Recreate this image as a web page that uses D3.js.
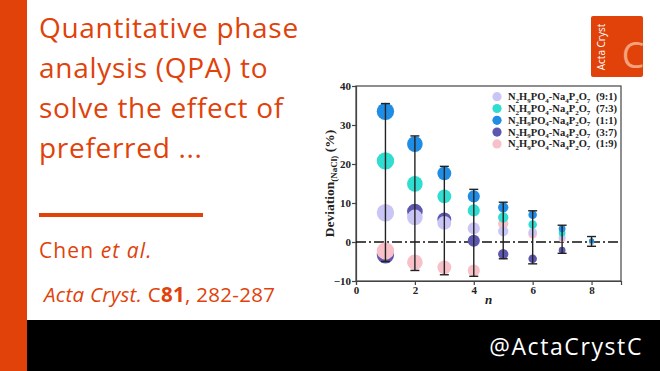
<!DOCTYPE html>
<html><head><meta charset="utf-8">
<script src="https://cdn.jsdelivr.net/npm/d3@7"></script>
<style>html,body{margin:0;padding:0;background:#fff;}svg{display:block;}</style>
</head><body>
<svg id="c" width="660" height="371"></svg>
<script>
// ---- data ----
const nValues = [1, 2, 3, 4, 5, 6, 7, 8];
const ratio91 = [7.5, 6.3, 4.9, 3.5, 2.8, 2.5, 1.2, 0.0];
const ratio73 = [20.8, 14.9, 11.7, 8.1, 6.3, 4.5, 2.3, 0.2];
const ratio11 = [33.5, 25.1, 17.6, 11.7, 8.9, 7.0, 3.4, 0.3];
const ratio37 = [-3.3, 7.8, 5.8, 0.3, -3.1, -4.3, -2.1, 0.1];
const ratio19 = [-2.3, -5.2, -6.5, -7.3, 4.7, 2.0, 0.8, -0.2];
const errHigh = [35.5, 27.2, 19.4, 13.5, 10.2, 8.0, 4.3, 1.4];
const errLow = [-5.0, -7.3, -8.4, -8.8, -4.3, -5.6, -2.9, -1.1];
const seriesNames = ["(9:1)", "(7:3)", "(1:1)", "(3:7)", "(1:9)"];
const xTicks = [0, 2, 4, 6, 8];
const yTicks = [-10, 0, 10, 20, 30, 40];

const colors = ["#C9C5F5", "#30DDD0", "#1F8DE4", "#5E57B0", "#F8C1C9"];
const seriesVals = [ratio91, ratio73, ratio11, ratio37, ratio19];
const drawOrder = [3, 4, 0, 1, 2];

const orange = "#E0420A";
const svg = d3.select("#c");
const sans = "'Open Sans', 'Noto Sans', sans-serif";
const serif = "'Liberation Serif', 'Times New Roman', serif";

// ---- left panel ----
svg.append("rect").attr("x", 0).attr("y", 0).attr("width", 27).attr("height", 371).attr("fill", orange);
const titleLines = ["Quantitative phase", "analysis (QPA) to", "solve the effect of", "preferred ..."];
svg.append("g").selectAll("text").data(titleLines).join("text")
  .attr("x", 39).attr("y", (d, i) => 38 + i * 40)
  .attr("font-family", sans).attr("font-size", 28).attr("letter-spacing", 0.7).attr("fill", orange).text(d => d);
svg.append("rect").attr("x", 39).attr("y", 213).attr("width", 164).attr("height", 4).attr("fill", orange);
const au = svg.append("text").attr("x", 39).attr("y", 258).attr("font-family", sans).attr("font-size", 21)
  .attr("letter-spacing", 1.1).attr("fill", orange);
au.append("tspan").text("Chen ");
au.append("tspan").attr("font-style", "italic").text("et al.");
const ref = svg.append("text").attr("x", 44).attr("y", 302).attr("font-family", sans).attr("font-size", 20.5)
  .attr("letter-spacing", 0.3).attr("fill", orange);
ref.append("tspan").attr("font-style", "italic").text("Acta Cryst.");
ref.append("tspan").text(" C");
ref.append("tspan").attr("font-weight", "bold").text("81");
ref.append("tspan").text(", 282-287");

// footer
svg.append("rect").attr("x", 27).attr("y", 320).attr("width", 633).attr("height", 51).attr("fill", "#000");
svg.append("text").attr("x", 643).attr("y", 355).attr("text-anchor", "end")
  .attr("font-family", sans).attr("font-size", 23).attr("letter-spacing", 1.6).attr("fill", "#fff").text("@ActaCrystC");

// logo
svg.append("rect").attr("x", 591).attr("y", 16).attr("width", 52).attr("height", 61).attr("rx", 2).attr("fill", orange);
svg.append("text").attr("transform", "translate(605,47) rotate(-90)").attr("text-anchor", "middle")
  .attr("font-family", sans).attr("font-size", 10).attr("fill", "#fff").text("Acta Cryst");
svg.append("text").attr("x", 633).attr("y", 68).attr("text-anchor", "middle")
  .attr("font-family", sans).attr("font-size", 36).attr("fill", "#F4A27C").text("C");

// ---- chart ----
const x = d3.scaleLinear().domain([0, 9]).range([356, 621]);
const y = d3.scaleLinear().domain([-10, 40]).range([281, 86]);
const r = d3.scaleLinear().domain([1, 8]).range([8.7, 2.5]);
const ink = "#222";

// frame
svg.append("rect").attr("x", x(0)).attr("y", y(40)).attr("width", x(9) - x(0)).attr("height", y(-10) - y(40))
  .attr("fill", "none").attr("stroke", "#444").attr("stroke-width", 1.2);

const yAxis = svg.append("g").attr("transform", `translate(${x(0)},0)`)
  .call(d3.axisLeft(y).tickValues(yTicks).tickSize(4).tickPadding(1).tickFormat(d3.format("d")));
const xAxis = svg.append("g").attr("transform", `translate(0,${y(-10)})`)
  .call(d3.axisBottom(x).tickValues(xTicks).tickSize(4).tickPadding(1).tickFormat(d3.format("d")));
[yAxis, xAxis].forEach(a => {
  a.select(".domain").attr("stroke", "#444").attr("stroke-width", 1.2);
  a.selectAll(".tick line").attr("stroke", "#444").attr("stroke-width", 1.2);
  a.selectAll(".tick text").attr("font-family", serif).attr("font-weight", "bold").attr("font-size", 11).attr("fill", ink);
});

// zero dash-dot line
svg.append("line").attr("x1", x(0)).attr("x2", x(9)).attr("y1", y(0)).attr("y2", y(0))
  .attr("stroke", "#111").attr("stroke-width", 1.5).attr("stroke-dasharray", "10,3,2,3");

// points
drawOrder.forEach(si => {
  svg.append("g").selectAll("circle").data(nValues).join("circle")
    .attr("cx", d => x(d)).attr("cy", (d, i) => y(seriesVals[si][i])).attr("r", d => r(d))
    .attr("fill", colors[si]);
});

// error bars
const eb = svg.append("g").attr("stroke", "#222").attr("stroke-width", 1.4);
nValues.forEach((n, i) => {
  eb.append("line").attr("x1", x(n)).attr("x2", x(n)).attr("y1", y(errHigh[i])).attr("y2", y(errLow[i]));
  [errHigh[i], errLow[i]].forEach(v => {
    eb.append("line").attr("x1", x(n) - 4.5).attr("x2", x(n) + 4.5).attr("y1", y(v)).attr("y2", y(v));
  });
});

// axis titles
const yl = svg.append("text").attr("transform", `translate(334,${(y(40) + y(-10)) / 2}) rotate(-90)`)
  .attr("text-anchor", "middle").attr("font-family", serif).attr("font-weight", "bold").attr("font-size", 13.5).attr("fill", ink);
yl.append("tspan").text("Deviation");
yl.append("tspan").attr("font-size", 9).attr("dy", 3).text("(NaCl)");
yl.append("tspan").attr("dy", -3).text(" (%)");
svg.append("text").attr("x", (x(0) + x(9)) / 2).attr("y", 304).attr("text-anchor", "middle")
  .attr("font-family", serif).attr("font-weight", "bold").attr("font-style", "italic").attr("font-size", 13).attr("fill", ink).text("n");

// legend
const lg = svg.append("g");
seriesNames.forEach((name, i) => {
  const yy = 96.7 + i * 11.8;
  lg.append("circle").attr("cx", 497).attr("cy", yy).attr("r", 4.6).attr("fill", colors[i]);
  const t = lg.append("text").attr("x", 508).attr("y", yy + 3.5).attr("font-family", serif)
    .attr("font-weight", "bold").attr("font-size", 10.5).attr("fill", ink);
  const parts = [["N", 0], ["2", 1], ["H", 0], ["9", 1], ["PO", 0], ["4", 1], ["-Na", 0], ["4", 1], ["P", 0], ["2", 1], ["O", 0], ["7", 1]];
  let sub = false;
  parts.forEach(([s, isSub]) => {
    const ts = t.append("tspan").text(s);
    if (isSub && !sub) { ts.attr("dy", 2.5).attr("font-size", 7); sub = true; }
    else if (isSub) { ts.attr("font-size", 7); }
    else if (!isSub && sub) { ts.attr("dy", -2.5); sub = false; }
  });
  t.append("tspan").attr("x", 596).attr("dy", -2.5).text(name);
});
</script>
</body></html>
